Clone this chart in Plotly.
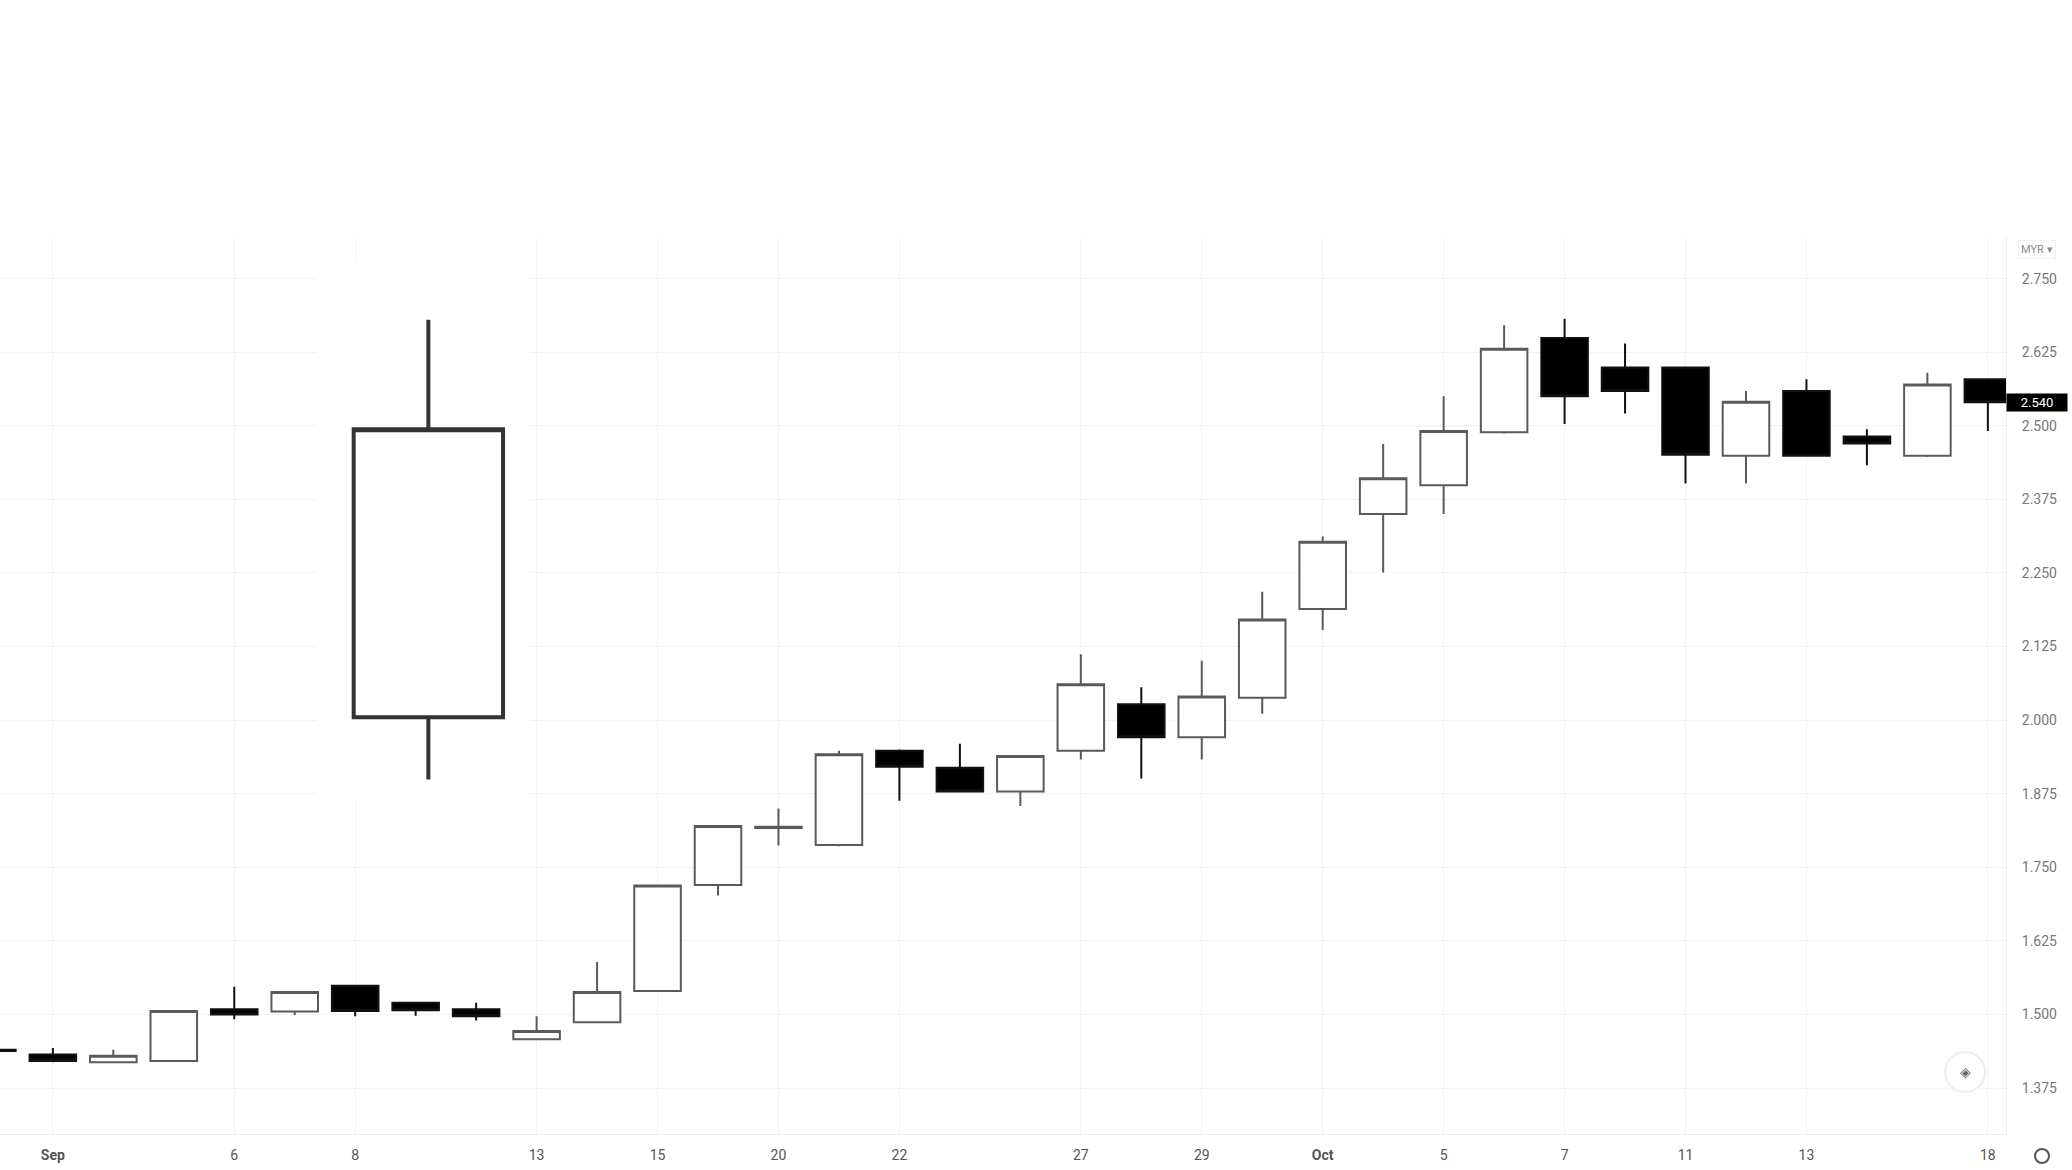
import plotly.graph_objects as go

# ---------------- data ----------------
dates = ["2021-08-30", "2021-09-01", "2021-09-02", "2021-09-03", "2021-09-06",
         "2021-09-07", "2021-09-08", "2021-09-09", "2021-09-10", "2021-09-13",
         "2021-09-14", "2021-09-15", "2021-09-17", "2021-09-20", "2021-09-21",
         "2021-09-22", "2021-09-23", "2021-09-24", "2021-09-27", "2021-09-28",
         "2021-09-29", "2021-09-30", "2021-10-01", "2021-10-04", "2021-10-05",
         "2021-10-06", "2021-10-07", "2021-10-08", "2021-10-11", "2021-10-12",
         "2021-10-13", "2021-10-14", "2021-10-15", "2021-10-18"]

opens = [1.440, 1.432, 1.419, 1.421, 1.509, 1.505, 1.549, 1.520, 1.509, 1.458,
         1.487, 1.540, 1.720, 1.817, 1.788, 1.948, 1.919, 1.879, 1.948, 2.027,
         1.971, 2.038, 2.189, 2.350, 2.399, 2.489, 2.649, 2.599, 2.599, 2.449,
         2.559, 2.482, 2.449, 2.579]
highs = [1.441, 1.443, 1.440, 1.507, 1.547, 1.539, 1.550, 1.521, 1.520, 1.497,
         1.589, 1.720, 1.822, 1.850, 1.948, 1.950, 1.960, 1.941, 2.112, 2.056,
         2.101, 2.218, 2.312, 2.469, 2.550, 2.671, 2.682, 2.640, 2.600, 2.559,
         2.579, 2.494, 2.590, 2.580]
lows = [1.437, 1.419, 1.418, 1.420, 1.492, 1.499, 1.497, 1.498, 1.490, 1.457,
        1.486, 1.539, 1.702, 1.787, 1.786, 1.863, 1.877, 1.854, 1.933, 1.901,
        1.933, 2.011, 2.153, 2.251, 2.350, 2.487, 2.503, 2.521, 2.402, 2.402,
        2.448, 2.433, 2.447, 2.491]
closes = [1.438, 1.421, 1.430, 1.506, 1.500, 1.538, 1.506, 1.507, 1.497, 1.472,
          1.538, 1.719, 1.820, 1.819, 1.942, 1.921, 1.879, 1.939, 2.061, 1.971,
          2.040, 2.171, 2.303, 2.411, 2.491, 2.631, 2.550, 2.559, 2.451, 2.541,
          2.449, 2.470, 2.570, 2.540]

tick_dates = ["2021-09-01", "2021-09-06", "2021-09-08", "2021-09-13", "2021-09-15",
              "2021-09-20", "2021-09-22", "2021-09-27", "2021-09-29", "2021-10-01",
              "2021-10-05", "2021-10-07", "2021-10-11", "2021-10-13", "2021-10-18"]
tick_labels = ["<b>Sep</b>", "6", "8", "13", "15", "20", "22", "27", "29", "<b>Oct</b>",
               "5", "7", "11", "13", "18"]

price_ticks = [1.375, 1.500, 1.625, 1.750, 1.875, 2.000, 2.125, 2.250, 2.375,
               2.500, 2.625, 2.750]

# enlarged illustrative candle
big_open = [2.005]
big_high = [2.680]
big_low = [1.899]
big_close = [2.494]

last_price = 2.540
currency = "MYR ▾"

# ---------------- figure ----------------
W, H = 2072, 1170
ML, MR, MT, MB = 0, 66, 238, 36

fig = go.Figure()

fig.add_trace(go.Candlestick(
    x=dates, open=opens, high=highs, low=lows, close=closes,
    increasing=dict(fillcolor="white", line=dict(color="#5a5a5a", width=2)),
    decreasing=dict(fillcolor="black", line=dict(color="#111111", width=2)),
    whiskerwidth=0, showlegend=False, hoverinfo="skip",
    xaxis="x", yaxis="y",
))

fig.add_trace(go.Candlestick(
    x=[0], open=big_open, high=big_high, low=big_low, close=big_close,
    increasing=dict(fillcolor="white", line=dict(color="#333333", width=4)),
    decreasing=dict(fillcolor="black", line=dict(color="#333333", width=4)),
    whiskerwidth=0, showlegend=False, hoverinfo="skip",
    xaxis="x2", yaxis="y",
))

x_range = [0.126, 33.3]
big_center = 7.21
unit = 3.208
x2_range = [(x_range[0] - big_center) / unit, (x_range[1] - big_center) / unit]

grid_col = "#f3f3f3"

fig.update_layout(
    width=W, height=H,
    margin=dict(l=ML, r=MR, t=MT, b=MB),
    paper_bgcolor="white", plot_bgcolor="white",
    boxgap=0.23, boxgroupgap=0,
    font=dict(family="Roboto, Arial, sans-serif", size=14, color="#666666"),
    xaxis=dict(
        type="category", range=x_range,
        rangeslider=dict(visible=False),
        tickmode="array", tickvals=tick_dates, ticktext=tick_labels,
        showgrid=True, gridcolor=grid_col, gridwidth=1,
        showline=True, linecolor="#eeeeee", linewidth=1, mirror=False,
        ticks="", ticklabelstandoff=8,
        tickfont=dict(size=14, color="#555555"),
        zeroline=False, fixedrange=True,
    ),
    xaxis2=dict(
        overlaying="x", range=x2_range, visible=False,
        rangeslider=dict(visible=False), showgrid=False, zeroline=False,
    ),
    yaxis=dict(
        side="right", range=[1.297, 2.819],
        tickmode="array", tickvals=price_ticks,
        ticktext=[f"{v:.3f}" for v in price_ticks],
        showgrid=True, gridcolor=grid_col, gridwidth=1,
        showline=True, linecolor="#eeeeee", linewidth=1,
        ticks="", ticklabelstandoff=12,
        tickfont=dict(size=14, color="#777777"),
        zeroline=False, fixedrange=True,
    ),
    shapes=[
        # white patch behind the enlarged candle
        dict(type="rect", xref="x", yref="y", x0=5.37, x1=8.9, y0=1.865, y1=2.779,
             fillcolor="white", line=dict(width=0), layer="between"),
        # navigation button
        dict(type="circle", xref="paper", yref="paper", xsizemode="pixel", ysizemode="pixel",
             xanchor=1965 / 2006, yanchor=1 - (1072 - MT) / 896,
             x0=-20, x1=20, y0=-20, y1=20,
             fillcolor="white", line=dict(color="#ececec", width=2), layer="above"),
        # settings circle
        dict(type="circle", xref="paper", yref="paper", xsizemode="pixel", ysizemode="pixel",
             xanchor=2042 / 2006, yanchor=1 - (1156 - MT) / 896,
             x0=-7, x1=7, y0=-7, y1=7,
             fillcolor="white", line=dict(color="#555555", width=2), layer="above"),
    ],
    annotations=[
        dict(xref="paper", yref="y", x=1, y=last_price, xanchor="left", yanchor="middle",
             text=f"{last_price:.3f}", showarrow=False, bgcolor="black",
             font=dict(color="white", size=13, family="Roboto, Arial, sans-serif"),
             width=60, height=17, borderpad=0, align="center"),
        dict(xref="paper", yref="paper", x=1, y=1 - 12 / 896, xanchor="left", yanchor="middle",
             xshift=12, text=currency, showarrow=False,
             font=dict(color="#8a8a8a", size=11), bordercolor="#f0f0f0", borderwidth=1,
             borderpad=2),
        dict(xref="paper", yref="paper", x=1965 / 2006, y=1 - (1072 - MT) / 896,
             xanchor="center", yanchor="middle", text="◈", showarrow=False,
             font=dict(color="#666666", size=14)),
    ],
)

fig.write_html("out.html", config={"displayModeBar": False},
               post_script="document.body.style.margin='0';")
